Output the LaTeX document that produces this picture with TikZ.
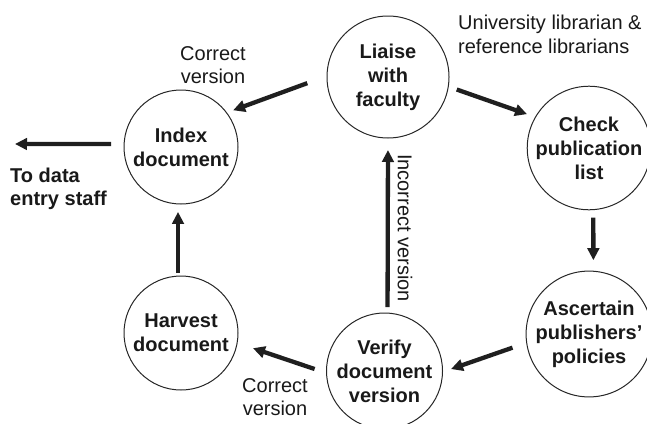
\documentclass[tikz,border=0pt]{standalone}
\usepackage{fontspec}
\setmainfont{Liberation Sans}
\usetikzlibrary{arrows.meta}
\begin{document}
\begin{tikzpicture}[x=1pt,y=-1pt,
  proc/.style={circle, draw=black!85, line width=1pt, minimum size=114pt, inner sep=0pt, outer sep=0pt, align=center, text=black!90, font=\bfseries\fontsize{20}{24}\selectfont},
  flow/.style={line width=4.3pt, draw=black!88, -{Triangle[length=12pt,width=11.5pt]}},
  lbl/.style={inner sep=0pt, text=black!90, font=\fontsize{20}{23.5}\selectfont}]
\useasboundingbox (0,0) rectangle (647,423);
\clip (0,0) rectangle (647,423);
\node[proc] (index) at (181,147) {Index\\document};
\node[proc, minimum size=122pt] (liaise) at (388,77) {Liaise\\with\\faculty};
\node[proc, minimum size=112pt] (check) at (589,148) {Check\\publication\\list};
\node[proc] (ascertain) at (589,334) {Ascertain\\publishers’\\policies};
\node[proc, minimum size=116pt] (verify) at (384.5,371) {Verify\\document\\version};
\node[proc] (harvest) at (181,333) {Harvest\\document};
\coordinate (toData) at (15,144);
\node[lbl, anchor=north, align=center] (cv1) at (213,46) {Correct\\version};
\node[lbl, anchor=north west, align=left] (univ) at (458,15) {University librarian \&\\reference librarians};
\node[lbl, anchor=north west, align=left, font=\bfseries\fontsize{20}{23}\selectfont] (todata) at (10,168) {To data\\entry staff};
\node[lbl, anchor=north, align=center] (cv2) at (275,378) {Correct\\version};
\node[lbl, rotate=-90] (incv) at (405,228) {Incorrect version};
\draw[flow, shorten <=21pt, shorten >=7pt] (liaise.179) -- (index.37);
\draw[flow, shorten <=13pt] (index.177) -- (toData);
\draw[flow, shorten <=9pt, shorten >=9pt] (liaise.351) -- (check.150);
\draw[flow, shorten <=8pt, shorten >=11pt] (check.-86) -- (ascertain.86);
\draw[flow, shorten <=15pt, shorten >=9pt] (ascertain.188.6) -- (verify.359);
\draw[flow, shorten <=12.6pt, shorten >=16.7pt] (verify.182) -- (harvest.350);
\draw[flow, shorten <=3pt, shorten >=8pt] (harvest.93) -- (index.267);
\draw[flow, shorten <=6pt, shorten >=12pt] (verify.87) -- (liaise.-90);
\end{tikzpicture}
\end{document}
